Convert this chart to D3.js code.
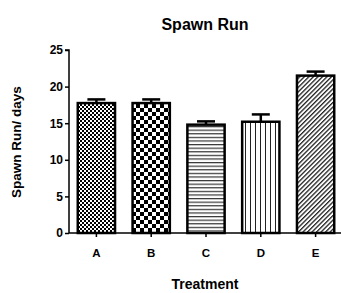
<!DOCTYPE html>
<html>
<head>
<meta charset="utf-8">
<script src="https://cdn.jsdelivr.net/npm/d3@7"></script>
<style>
  body { margin: 0; background: #fff; }
  text { font-family: Arial, "Liberation Sans", sans-serif; font-weight: bold; }
</style>
</head>
<body>
<div id="chart"></div>
<script>
const categories = ["A", "B", "C", "D", "E"];
const values = [17.75, 17.75, 14.8, 15.2, 21.5];
const errors = [0.5, 0.5, 0.45, 1.0, 0.55];
const yTicks = [0, 5, 10, 15, 20, 25];
const patterns = ["fineCheck", "bigCheck", "hLines", "vLines", "diag"];

const W = 341, H = 293;
const margin = { left: 69, top: 50, bottom: 60 };

const svg = d3.select('#chart').append('svg')
  .attr('width', W)
  .attr('height', H);

// Fill patterns
const defs = svg.append('defs');

let p = defs.append('pattern').attr('id', 'fineCheck')
  .attr('patternUnits', 'userSpaceOnUse').attr('width', 4).attr('height', 4);
p.append('rect').attr('width', 4).attr('height', 4).attr('fill', '#fff');
p.append('rect').attr('width', 2).attr('height', 2).attr('fill', '#000');
p.append('rect').attr('x', 2).attr('y', 2).attr('width', 2).attr('height', 2).attr('fill', '#000');

p = defs.append('pattern').attr('id', 'bigCheck')
  .attr('patternUnits', 'userSpaceOnUse').attr('width', 8).attr('height', 8);
p.append('rect').attr('width', 8).attr('height', 8).attr('fill', '#fff');
p.append('rect').attr('width', 4).attr('height', 4).attr('fill', '#000');
p.append('rect').attr('x', 4).attr('y', 4).attr('width', 4).attr('height', 4).attr('fill', '#000');

p = defs.append('pattern').attr('id', 'hLines')
  .attr('patternUnits', 'userSpaceOnUse').attr('width', 4).attr('height', 3.6);
p.append('rect').attr('width', 4).attr('height', 3.6).attr('fill', '#fff');
p.append('rect').attr('width', 4).attr('height', 1.2).attr('fill', '#333');

p = defs.append('pattern').attr('id', 'vLines')
  .attr('patternUnits', 'userSpaceOnUse').attr('width', 5).attr('height', 4);
p.append('rect').attr('width', 5).attr('height', 4).attr('fill', '#fff');
p.append('rect').attr('width', 1).attr('height', 4).attr('fill', '#222');

p = defs.append('pattern').attr('id', 'diag')
  .attr('patternUnits', 'userSpaceOnUse').attr('width', 3.2).attr('height', 3.2)
  .attr('patternTransform', 'rotate(45)');
p.append('rect').attr('width', 3.2).attr('height', 3.2).attr('fill', '#fff');
p.append('rect').attr('width', 1.3).attr('height', 3.2).attr('fill', '#222');

const x = d3.scaleBand()
  .domain(categories)
  .range([margin.left, margin.left + 5 * 54.8])
  .paddingInner(0.32)
  .paddingOuter(0.16);

const y = d3.scaleLinear()
  .domain([0, 25])
  .range([H - margin.bottom, margin.top]);

// Bars
svg.append('g')
  .selectAll('rect').data(values)
  .enter()
  .append('rect')
    .attr('x', (d, i) => x(categories[i]))
    .attr('y', d => y(d))
    .attr('width', x.bandwidth())
    .attr('height', d => y(0) - y(d))
    .attr('fill', (d, i) => 'url(#' + patterns[i] + ')')
    .attr('stroke', '#000')
    .attr('stroke-width', 2.5);

// Error bars
const err = svg.append('g').attr('stroke', '#000').attr('stroke-width', 2.5);
values.forEach((v, i) => {
  const cx = x(categories[i]) + x.bandwidth() / 2;
  err.append('line')
    .attr('x1', cx).attr('x2', cx)
    .attr('y1', y(v)).attr('y2', y(v + errors[i]));
  err.append('line')
    .attr('x1', cx - 9).attr('x2', cx + 9)
    .attr('y1', y(v + errors[i])).attr('y2', y(v + errors[i]));
});

// Axes
const yAxis = svg.append('g')
  .attr('transform', `translate(${margin.left},0)`)
  .call(d3.axisLeft(y).tickValues(yTicks).tickSize(4).tickPadding(2));
yAxis.select('.domain').attr('stroke-width', 1.5).attr('d', `M-4,${y(25)}H0V${y(0)}`);
yAxis.selectAll('.tick line').attr('stroke-width', 1.5);
yAxis.selectAll('.tick text').attr('font-size', 12).attr('fill', '#000');

const xAxis = svg.append('g')
  .attr('transform', `translate(0,${y(0)})`)
  .call(d3.axisBottom(x).tickSize(4).tickPadding(12).tickSizeOuter(0));
xAxis.select('.domain').attr('stroke-width', 1.5).attr('d', `M${margin.left},0H${W}`);
xAxis.selectAll('.tick line').attr('stroke-width', 1.5);
xAxis.selectAll('.tick text').attr('font-size', 11.5).attr('fill', '#000');

// Titles
svg.append('text')
  .attr('x', 205).attr('y', 30)
  .attr('text-anchor', 'middle')
  .attr('font-size', 16)
  .text('Spawn Run');

svg.append('text')
  .attr('transform', `translate(21,${142}) rotate(-90)`)
  .attr('text-anchor', 'middle')
  .attr('font-size', 13.5)
  .text('Spawn Run/ days');

svg.append('text')
  .attr('x', 205).attr('y', 289)
  .attr('text-anchor', 'middle')
  .attr('font-size', 14)
  .text('Treatment');
</script>
</body>
</html>
